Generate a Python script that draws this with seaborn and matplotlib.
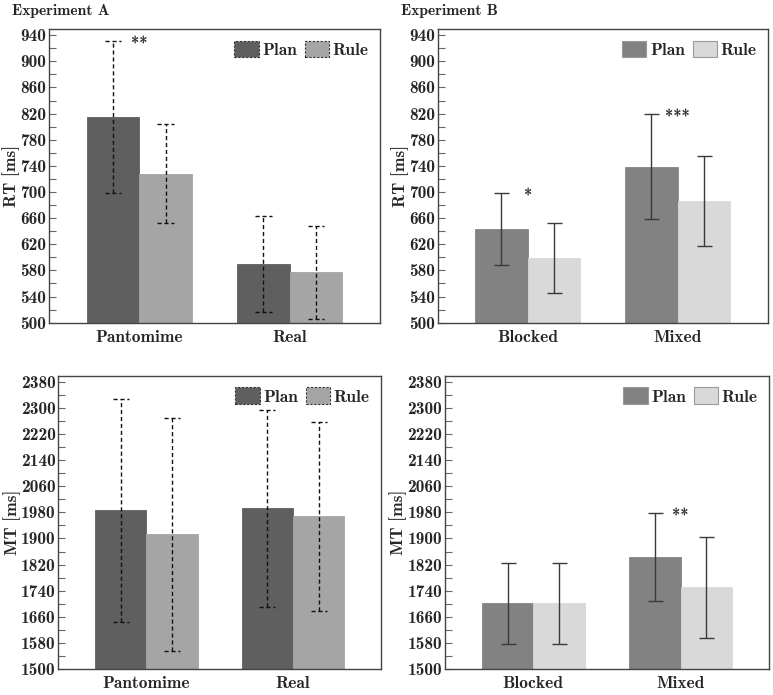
import numpy as np
import pandas as pd
import seaborn as sns
import matplotlib.pyplot as plt
from matplotlib.patches import Patch

# datos
cond_a = ["Pantomime", "Real"]
cond_b = ["Blocked", "Mixed"]
grupos = ["Plan", "Rule"]

rt_a_plan = [815, 590]
rt_a_rule = [728, 577]
rt_a_plan_sd = [116, 73]
rt_a_rule_sd = [76, 71]

rt_b_plan = [643, 739]
rt_b_rule = [599, 686]
rt_b_plan_sd = [55, 80]
rt_b_rule_sd = [54, 69]

mt_a_plan = [1986, 1992]
mt_a_rule = [1913, 1968]
mt_a_plan_sd = [341, 302]
mt_a_rule_sd = [357, 289]

mt_b_plan = [1701, 1844]
mt_b_rule = [1701, 1750]
mt_b_plan_sd = [125, 135]
mt_b_rule_sd = [125, 155]

# estrellas de significancia (indice de condicion, texto)
stars_rt_a = [(0, "**")]
stars_rt_b = [(0, "*"), (1, "***")]
stars_mt_a = []
stars_mt_b = [(1, "**")]

colores_a = ["#5f5f5f", "#a5a5a5"]
colores_b = ["#828282", "#d9d9d9"]

sns.set_style("white")
plt.rcParams["font.family"] = ["cmb10", "DejaVu Serif"]
plt.rcParams["axes.unicode_minus"] = False


def armar_df(conds, plan, rule, plan_sd, rule_sd):
    return pd.DataFrame({
        "cond": conds + conds,
        "grupo": ["Plan"] * len(conds) + ["Rule"] * len(conds),
        "valor": plan + rule,
        "sd": plan_sd + rule_sd,
    })


def panel(ax, df, conds, colores, ylim, ytop, major, ylabel, estilo, stars):
    sns.barplot(data=df, x="cond", y="valor", hue="grupo", order=conds,
                hue_order=grupos, palette=colores, width=0.7, errorbar=None,
                saturation=1, ax=ax, legend=False)
    for p in ax.patches:
        p.set_edgecolor(p.get_facecolor())
        p.set_linewidth(0.6)

    # barras de error desde los datos
    barras = [p for p in ax.patches if p.get_width() > 0]
    for p, (_, fila) in zip(barras, df.iterrows()):
        xc = p.get_x() + p.get_width() / 2
        m, s = fila["valor"], fila["sd"]
        if estilo == "dashed":
            ax.vlines(xc, m - s, m + s, colors="#111111", lw=1.0,
                      linestyles=(0, (3, 2)), zorder=5)
            ax.hlines([m - s, m + s], xc - 0.055, xc + 0.055, colors="#111111",
                      lw=1.0, linestyles=(0, (3, 2)), zorder=5)
        else:
            ax.errorbar(xc, m, yerr=s, fmt="none", ecolor="#3a3a3a",
                        elinewidth=1.0, capsize=5.4, capthick=1.0, zorder=5)

    for i, txt in stars:
        tope = df[(df["cond"] == conds[i]) & (df["grupo"] == "Plan")]
        y = (tope["valor"] + tope["sd"]).iloc[0]
        ax.annotate(txt, (i, y), xytext=(0, -3), textcoords="offset points",
                    ha="center", va="center", fontsize=12, color="#333333")

    ax.set_xlim(-0.6, 1.6)
    ax.set_ylim(ylim[0], ytop)
    ax.set_yticks(np.arange(ylim[0], ylim[1] + 1, major))
    ax.set_yticks(np.arange(ylim[0], ytop, major / 2), minor=True)
    ax.tick_params(axis="y", which="both", direction="in", length=5,
                   width=0.8, color="#666666", labelsize=12.5, pad=2, left=True)
    ax.tick_params(axis="x", length=0, labelsize=12.5, pad=5)
    ax.set_xlabel("")
    ax.set_ylabel(ylabel, fontsize=12.5, labelpad=0)
    for sp in ax.spines.values():
        sp.set_color("#444444")
        sp.set_linewidth(1.0)

    if estilo == "dashed":
        handles = [Patch(facecolor=c, edgecolor="#333333", linestyle=(0, (2, 1.5)),
                         linewidth=0.8) for c in colores]
    else:
        handles = [Patch(facecolor=c, edgecolor="#9a9a9a", linewidth=0.8)
                   for c in colores]
    ax.legend(handles, grupos, loc="upper right", ncol=2, frameon=False,
              fontsize=12.5, handlelength=1.4, handleheight=1.1,
              handletextpad=0.2, columnspacing=0.45, borderaxespad=0.25)


fig = plt.figure(figsize=(7.73, 6.95), dpi=100)
ax1 = fig.add_axes([0.0634, 0.5357, 0.4282, 0.4221])
ax2 = fig.add_axes([0.5662, 0.5357, 0.4269, 0.4221])
ax3 = fig.add_axes([0.0754, 0.0374, 0.4175, 0.4216])
ax4 = fig.add_axes([0.5757, 0.0374, 0.4191, 0.4216])

panel(ax1, armar_df(cond_a, rt_a_plan, rt_a_rule, rt_a_plan_sd, rt_a_rule_sd),
      cond_a, colores_a, (500, 940), 949, 40, "RT [ms]", "dashed", stars_rt_a)
panel(ax2, armar_df(cond_b, rt_b_plan, rt_b_rule, rt_b_plan_sd, rt_b_rule_sd),
      cond_b, colores_b, (500, 940), 949, 40, "RT [ms]", "solid", stars_rt_b)
panel(ax3, armar_df(cond_a, mt_a_plan, mt_a_rule, mt_a_plan_sd, mt_a_rule_sd),
      cond_a, colores_a, (1500, 2380), 2398, 80, "MT [ms]", "dashed", stars_mt_a)
panel(ax4, armar_df(cond_b, mt_b_plan, mt_b_rule, mt_b_plan_sd, mt_b_rule_sd),
      cond_b, colores_b, (1500, 2380), 2398, 80, "MT [ms]", "solid", stars_mt_b)

fig.text(12 / 773, 1 - 11 / 695, "Experiment A", fontsize=11.3, va="center")
fig.text(401 / 773, 1 - 11 / 695, "Experiment B", fontsize=11.3, va="center")

fig.savefig("out.png", dpi=100)
